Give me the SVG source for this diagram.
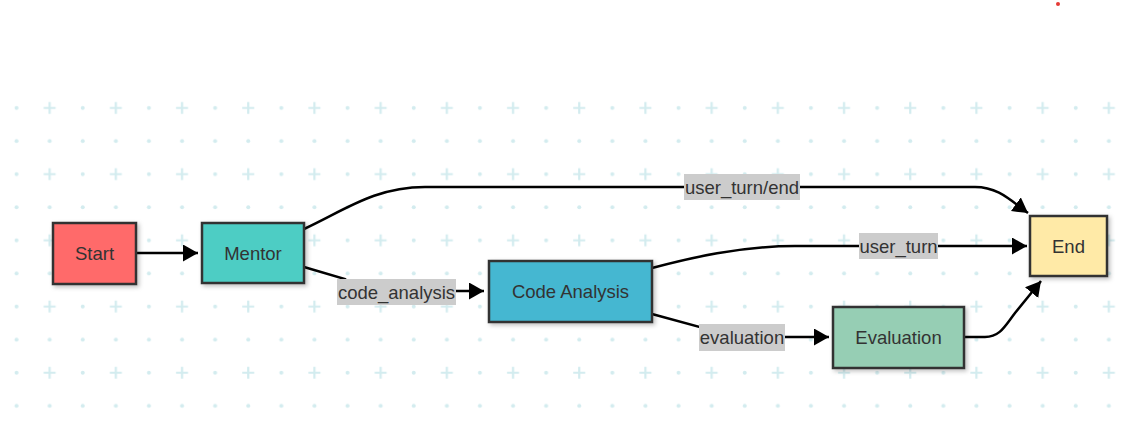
<svg xmlns="http://www.w3.org/2000/svg" width="1132" height="425" viewBox="0 0 1132 425">
<style>
.node rect{stroke:#333;stroke-width:2.5;filter:url(#sh)}
.node text{font-family:"Liberation Sans",Arial,sans-serif;font-size:18.5px;fill:#333;text-anchor:middle;dominant-baseline:central}
.edge{fill:none;stroke:#000;stroke-width:2.5}
.lbl rect{fill:#ccc}
.lbl text{font-family:"Liberation Sans",Arial,sans-serif;font-size:18.5px;fill:#333;text-anchor:middle;dominant-baseline:central}
.g{fill:#d3ecef}
</style>
<defs>
<filter id="sh" x="-20%" y="-20%" width="140%" height="150%"><feDropShadow dx="2" dy="2" stdDeviation="2" flood-color="#000" flood-opacity="0.25"/></filter>
<marker id="ah" markerUnits="userSpaceOnUse" markerWidth="16" markerHeight="18" refX="15" refY="8.5" orient="auto"><path d="M0,0 L15,8.5 L0,17 Z" fill="#000"/></marker>
<pattern id="grid" x="0" y="91.4" width="66.2" height="66.2" patternUnits="userSpaceOnUse">
<circle class="g" cx="16.55" cy="16.55" r="2"/>
<circle class="g" cx="16.55" cy="49.65" r="2"/>
<circle class="g" cx="49.65" cy="49.65" r="2"/>
<path d="M43.65,16.55 H55.65 M49.65,10.55 V22.55" stroke="#d3ecef" stroke-width="2.2"/>
</pattern>
</defs>
<rect x="0" y="0" width="1132" height="425" fill="#fff"/>
<rect x="0" y="99" width="1132" height="326" fill="url(#grid)"/>
<circle cx="1058" cy="4" r="2" fill="#e53935"/>
<g id="connectors">
<path class="edge" d="M137,253 L198,253" marker-end="url(#ah)"/>
<path class="edge" d="M304,229 C345,210 375,187 425,187 L975,187 C998,187 1010,200 1028,213" marker-end="url(#ah)"/>
<path class="edge" d="M304,267 L345,279 Q356,291 372,291 L484,291" marker-end="url(#ah)"/>
<path class="edge" d="M652,268 C690,258 740,246 795,246 L1027,246" marker-end="url(#ah)"/>
<path class="edge" d="M652,314 L700,327 Q710,337 725,337 L829,337" marker-end="url(#ah)"/>
<path class="edge" d="M965,337 L985,337 C1000,337 1005,326 1015,313 L1041,281" marker-end="url(#ah)"/>
<g class="lbl"><rect x="684" y="174" width="116" height="26"/><text x="742" y="187">user_turn/end</text></g>
<g class="lbl"><rect x="337" y="279" width="119" height="26"/><text x="396.5" y="292">code_analysis</text></g>
<g class="lbl"><rect x="859" y="233" width="79" height="26"/><text x="898.5" y="246">user_turn</text></g>
<g class="lbl"><rect x="699" y="324" width="86" height="27"/><text x="742" y="337.5">evaluation</text></g>
</g>
<g id="start" class="node"><rect x="53" y="223" width="83" height="61" fill="#ff6b6b"/><text x="94.5" y="253.5">Start</text></g>
<g id="mentor" class="node"><rect x="202" y="223" width="102" height="60" fill="#4ecdc4"/><text x="253" y="253">Mentor</text></g>
<g id="code_analysis" class="node"><rect x="489" y="261" width="163" height="61" fill="#45b7d1"/><text x="570.5" y="291.5">Code Analysis</text></g>
<g id="evaluation" class="node"><rect x="833" y="307" width="131" height="61" fill="#96ceb4"/><text x="898.5" y="337.5">Evaluation</text></g>
<g id="end" class="node"><rect x="1030" y="216" width="77" height="60" fill="#ffeaa7"/><text x="1068.5" y="246">End</text></g>
</svg>
